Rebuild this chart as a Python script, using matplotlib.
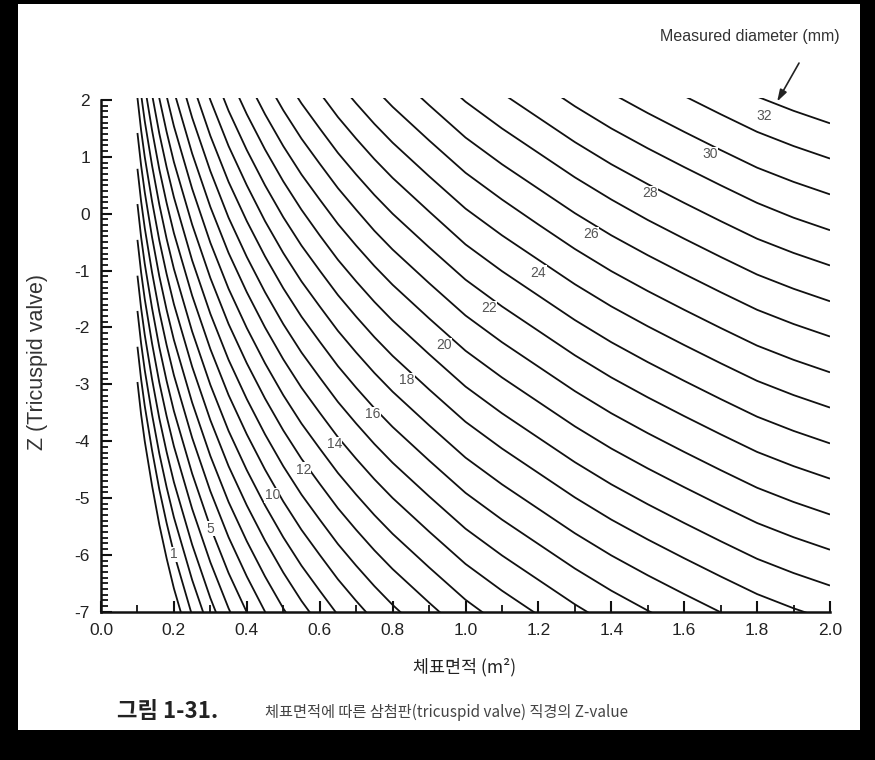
import numpy as np
import matplotlib
matplotlib.use("Agg")
import matplotlib.pyplot as plt
from matplotlib.patches import Rectangle
from matplotlib.ticker import MultipleLocator, FormatStrFormatter

plt.rcParams["font.family"] = ["Liberation Sans", "Noto Sans CJK KR", "DejaVu Sans"]
plt.rcParams["axes.unicode_minus"] = False

# body surface area grid (m^2) shared by all curves
bsa = [0.10, 0.11, 0.12, 0.14, 0.16, 0.18, 0.20, 0.25, 0.30, 0.35, 0.40,
       0.45, 0.50, 0.55, 0.60, 0.65, 0.70, 0.75, 0.80, 0.90, 1.00, 1.10,
       1.20, 1.30, 1.40, 1.50, 1.60, 1.70, 1.80, 1.90, 2.00]

# one curve per measured diameter (0..32 mm); Z,
# each curve starts at bsa[curve_start[i]]
curve_start = [0, 0, 0, 0, 0, 0, 0, 0, 0, 1, 2, 3, 3, 5, 6, 6, 7,
               7, 8, 9, 10, 11, 12, 14, 15, 17, 18, 19, 21, 22, 24, 26, 28]
z_curves = [
    [-2.96, -3.53, -4.00, -4.78, -5.47, -6.06, -6.59, -7.69],
    [-2.34, -2.91, -3.38, -4.16, -4.85, -5.44, -5.97, -7.07],
    [-1.71, -2.28, -2.75, -3.53, -4.22, -4.81, -5.34, -6.44, -7.38],
    [-1.09, -1.66, -2.13, -2.91, -3.60, -4.19, -4.72, -5.82, -6.76, -7.57],
    [-0.46, -1.03, -1.50, -2.28, -2.97, -3.56, -4.09, -5.19, -6.13, -6.94, -7.63],
    [0.17, -0.41, -0.88, -1.66, -2.35, -2.94, -3.47, -4.57, -5.51, -6.32, -7.01, -7.63],
    [0.79, 0.22, -0.25, -1.03, -1.72, -2.31, -2.84, -3.94, -4.88, -5.69, -6.38, -7.00, -7.56],
    [1.42, 0.85, 0.38, -0.41, -1.10, -1.69, -2.22, -3.32, -4.26, -5.07, -5.76, -6.38, -6.94, -7.44],
    [2.04, 1.47, 1.00, 0.22, -0.47, -1.06, -1.59, -2.69, -3.63, -4.44, -5.13, -5.75, -6.31, -6.81, -7.25],
    [2.10, 1.63, 0.85, 0.16, -0.44, -0.97, -2.07, -3.01, -3.82, -4.51, -5.13, -5.69, -6.19, -6.63, -7.06],
    [2.25, 1.47, 0.78, 0.19, -0.34, -1.44, -2.38, -3.19, -3.88, -4.50, -5.06, -5.56, -6.00, -6.43, -6.81, -7.17],
    [2.10, 1.41, 0.82, 0.29, -0.82, -1.76, -2.57, -3.26, -3.88, -4.44, -4.94, -5.38, -5.81, -6.19, -6.55, -6.88, -7.47],
    [2.72, 2.03, 1.44, 0.91, -0.19, -1.13, -1.94, -2.63, -3.25, -3.81, -4.31, -4.75, -5.18, -5.56, -5.92, -6.25, -6.84, -7.41],
    [2.07, 1.54, 0.44, -0.51, -1.32, -2.01, -2.63, -3.19, -3.69, -4.13, -4.56, -4.94, -5.30, -5.63, -6.22, -6.79, -7.26],
    [2.16, 1.06, 0.12, -0.69, -1.38, -2.00, -2.56, -3.06, -3.50, -3.93, -4.31, -4.67, -5.00, -5.59, -6.16, -6.63, -7.06],
    [2.79, 1.69, 0.75, -0.07, -0.76, -1.38, -1.94, -2.44, -2.88, -3.31, -3.69, -4.05, -4.38, -4.97, -5.54, -6.01, -6.44, -6.87, -7.26],
    [2.31, 1.37, 0.56, -0.13, -0.75, -1.31, -1.81, -2.25, -2.68, -3.06, -3.42, -3.75, -4.34, -4.91, -5.38, -5.81, -6.24, -6.63, -6.98, -7.31],
    [2.94, 2.00, 1.19, 0.50, -0.13, -0.69, -1.19, -1.63, -2.06, -2.44, -2.80, -3.13, -3.72, -4.29, -4.76, -5.19, -5.62, -6.01, -6.36, -6.69, -7.01, -7.32],
    [2.62, 1.81, 1.12, 0.50, -0.06, -0.56, -1.00, -1.43, -1.81, -2.17, -2.50, -3.09, -3.66, -4.13, -4.56, -4.99, -5.38, -5.73, -6.06, -6.38, -6.69, -6.94, -7.16],
    [2.44, 1.75, 1.13, 0.57, 0.07, -0.38, -0.81, -1.19, -1.55, -1.88, -2.47, -3.04, -3.51, -3.94, -4.37, -4.76, -5.11, -5.44, -5.76, -6.07, -6.32, -6.54],
    [2.37, 1.75, 1.19, 0.69, 0.25, -0.18, -0.56, -0.92, -1.25, -1.84, -2.41, -2.88, -3.31, -3.74, -4.13, -4.48, -4.81, -5.13, -5.44, -5.69, -5.91],
    [2.38, 1.82, 1.32, 0.88, 0.45, 0.07, -0.30, -0.63, -1.22, -1.79, -2.26, -2.69, -3.12, -3.51, -3.86, -4.19, -4.51, -4.82, -5.07, -5.29],
    [2.44, 1.94, 1.50, 1.07, 0.69, 0.33, 0.00, -0.59, -1.16, -1.63, -2.06, -2.49, -2.88, -3.23, -3.56, -3.88, -4.19, -4.44, -4.66],
    [2.13, 1.70, 1.32, 0.96, 0.63, 0.04, -0.54, -1.01, -1.44, -1.87, -2.26, -2.61, -2.94, -3.26, -3.57, -3.82, -4.04],
    [2.32, 1.94, 1.58, 1.25, 0.66, 0.09, -0.38, -0.81, -1.24, -1.63, -1.98, -2.31, -2.63, -2.94, -3.19, -3.41],
    [2.21, 1.88, 1.29, 0.72, 0.25, -0.19, -0.62, -1.01, -1.36, -1.69, -2.01, -2.32, -2.57, -2.79],
    [2.50, 1.91, 1.34, 0.87, 0.44, 0.01, -0.38, -0.73, -1.06, -1.38, -1.69, -1.94, -2.16],
    [2.54, 1.97, 1.50, 1.07, 0.64, 0.25, -0.11, -0.44, -0.76, -1.07, -1.32, -1.54],
    [2.12, 1.69, 1.26, 0.87, 0.52, 0.19, -0.13, -0.44, -0.69, -0.91],
    [2.32, 1.89, 1.50, 1.15, 0.82, 0.50, 0.19, -0.07, -0.29],
    [2.12, 1.77, 1.44, 1.12, 0.81, 0.56, 0.34],
    [2.07, 1.75, 1.44, 1.19, 0.97],
    [2.06, 1.81, 1.59],
]

# curve labels (mm) and where they sit on the chart (BSA, Z)
label_mm = [1, 5, 10, 12, 14, 16, 18, 20, 22, 24, 26, 28, 30, 32]
label_bsa = [0.20, 0.30, 0.47, 0.555, 0.64, 0.745, 0.84, 0.94, 1.065, 1.20, 1.345, 1.505, 1.67, 1.82]
label_z = [-5.99, -5.54, -4.95, -4.50, -4.05, -3.53, -2.93, -2.31, -1.66, -1.04, -0.36, 0.36, 1.05, 1.72]

fig = plt.figure(figsize=(8.75, 7.6), dpi=100, facecolor="black")
# scanned page area
fig.patches.append(Rectangle((18 / 875, 1 - 730 / 760), 842 / 875, 726 / 760,
                             transform=fig.transFigure, facecolor="white",
                             edgecolor="none", zorder=-5))

ax = fig.add_axes([101 / 875, (760 - 611.7) / 760, 729 / 875, 513.4 / 760])
ax.set_facecolor("none")

for start, z in zip(curve_start, z_curves):
    x = bsa[start:start + len(z)]
    ax.plot(x, z, color="#111111", lw=1.3, solid_capstyle="butt", zorder=2)

for mm, b, zl in zip(label_mm, label_bsa, label_z):
    ax.text(b, zl, str(mm), ha="center", va="center", fontsize=10, color="#555555",
            bbox=dict(facecolor="white", edgecolor="none", pad=0.3), zorder=3)

# arrow pointing at the topmost curve
z32 = z_curves[32]
ax.annotate("", xy=(1.855, np.interp(1.855, bsa[28:], z32) + 0.05), xytext=(1.915, 2.65),
            arrowprops=dict(arrowstyle="-|>,head_length=0.7,head_width=0.22",
                            color="#222222", lw=1.2, shrinkA=0, shrinkB=0),
            annotation_clip=False)
ax.text(1.78, 3.12, "Measured diameter (mm)", ha="center", va="center",
        fontsize=11.5, color="#333333", clip_on=False)

ax.set_xlim(0, 2.0)
ax.set_ylim(-7, 2.03)
ax.spines["top"].set_visible(False)
ax.spines["right"].set_visible(False)
ax.spines["left"].set_bounds(-7, 2)
ax.spines["bottom"].set_bounds(0, 2)
for s in ("left", "bottom"):
    ax.spines[s].set_linewidth(1.8)
    ax.spines[s].set_color("#111111")

ax.xaxis.set_major_locator(MultipleLocator(0.2))
ax.xaxis.set_minor_locator(MultipleLocator(0.1))
ax.yaxis.set_major_locator(MultipleLocator(1))
ax.yaxis.set_minor_locator(MultipleLocator(0.1))
ax.xaxis.set_major_formatter(FormatStrFormatter("%.1f"))
ax.yaxis.set_major_formatter(FormatStrFormatter("%d"))
ax.tick_params(which="major", direction="in", length=8, width=1.5, color="#111111",
               labelsize=12.5, labelcolor="#222222", pad=8)
ax.tick_params(which="minor", direction="in", length=5, width=1.3, color="#111111")

fig.text(38 / 875, 1 - 362 / 760, "Z (Tricuspid valve)", rotation=90,
         ha="center", va="center", fontsize=15.5, color="#333333")
fig.text(465 / 875, 1 - 667 / 760, "체표면적 (m²)", ha="center", va="center",
         fontsize=12.5, color="#222222", family=["Noto Sans CJK KR", "DejaVu Sans"])
fig.text(117 / 875, 1 - 712 / 760, "그림 1-31.", ha="left", va="center",
         fontsize=16, fontweight="bold", color="#222222",
         family=["Noto Sans CJK KR", "DejaVu Sans"])
fig.text(265 / 875, 1 - 712 / 760, "체표면적에 따른 삼첨판(tricuspid valve) 직경의 Z-value",
         ha="left", va="center", fontsize=11, color="#444444",
         family=["Noto Sans CJK KR", "DejaVu Sans"])

fig.savefig("out.png", dpi=100, facecolor=fig.get_facecolor())
